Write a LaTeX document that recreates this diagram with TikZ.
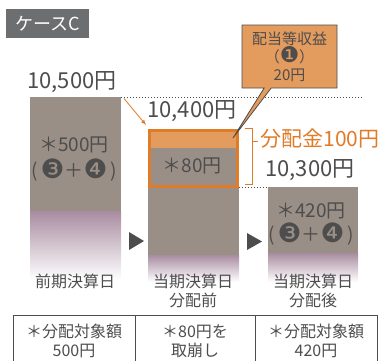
\documentclass[tikz,border=0pt]{standalone}
\usepackage{fontspec}
\setmainfont{Noto Sans CJK JP}
\newfontfamily\dingfont[Scale=1.4]{DejaVu Sans}
\usetikzlibrary{shapes.callouts}
\definecolor{bargray}{HTML}{9A8F87}
\definecolor{barpurple}{HTML}{A88CA0}
\definecolor{divorange}{HTML}{E07B28}
\definecolor{lightorange}{HTML}{E39B5E}
\definecolor{txtgray}{HTML}{4D4D4D}
\definecolor{taggray}{HTML}{6D6E70}
\tikzset{
  amount/.style={font=\fontsize{22}{24}\selectfont, text=txtgray, inner sep=0pt},
  inbar/.style={font=\fontsize{19}{22}\selectfont, text=txtgray, inner sep=0pt, align=center},
  datelabel/.style={font=\fontsize{16}{19}\selectfont, text=txtgray, inner sep=0pt, align=center},
  cell/.style={font=\fontsize{16}{19}\selectfont, text=txtgray, inner sep=0pt, align=center},
  playmark/.style={fill=txtgray},
}
\newcommand{\dg}[1]{\raisebox{-0.06em}{\dingfont #1}}

\begin{document}
\begin{tikzpicture}[x=1pt,y=-1pt]
\useasboundingbox (0,0) rectangle (382,360);
\node[fill=taggray, text=white, minimum width=83pt, minimum height=29pt, inner sep=0pt,
  font=\fontsize{18}{20}\selectfont] (caseC) at (47.5,23.5) {ケースC};

\fill[bargray] (30,97) rectangle (121,211);
\shade[top color=barpurple, bottom color=white] (30,211) rectangle (121,280);
\fill[bargray] (148,129) rectangle (239,255);
\shade[top color=barpurple, bottom color=white] (148,255) rectangle (239,282);
\fill[lightorange] (148,129) rectangle (239,148);
\draw[divorange, line width=3pt] (149.5,130.5) rectangle (237.5,186.5);
\fill[bargray] (268,187) rectangle (358,253);
\shade[top color=barpurple, bottom color=white] (268,253) rectangle (358,282);

\coordinate (lastTop) at (121,97.5);
\coordinate (lastEnd) at (363,97.5);
\coordinate (preTop) at (239,187.5);
\coordinate (postTop) at (268,187.5);
\draw[txtgray, dotted, line width=1pt] (lastTop) -- (lastEnd);
\draw[txtgray, dotted, line width=1pt] (preTop) -- (postTop);

\coordinate (arrowFrom) at (124,98.5);
\coordinate (arrowTo) at (146,125);
\draw[divorange, line width=0.8pt, ->, >=latex] (arrowFrom) -- (arrowTo);

\draw[divorange, line width=1pt] (245,128) -- (252,128) -- (252,184) -- (245,184);
\draw[divorange, line width=1pt] (252,141.5) -- (258,141.5);

\node[amount] (navLast) at (72,82) {10,500円};
\node[amount] (navPre) at (192,111) {10,400円};
\node[amount] (navPost) at (310,170) {10,300円};
\node[amount, font=\fontsize{21}{24}\selectfont, text=divorange] (dividend) at (320,139) {分配金100円};

\node[inbar] (lastAmt) at (74,145) {＊500円};
\node[inbar] (lastSrc) at (74,170) {(\,\dg{❸}＋\dg{❹}\,)};
\node[inbar] (preAmt) at (192,166) {＊80円};
\node[inbar] (postAmt) at (311,211) {＊420円};
\node[inbar] (postSrc) at (311,234) {(\,\dg{❸}＋\dg{❹}\,)};

\node[rectangle callout, draw=txtgray, fill=lightorange, line width=0.8pt,
  callout absolute pointer={(233,138)}, callout pointer width=7pt,
  minimum width=95pt, minimum height=63pt, inner sep=0pt, align=center,
  text=txtgray, font=\fontsize{15}{18}\selectfont] (income) at (289.5,56.5)
  {配当等収益\\（{\dingfont\fontsize{15.5}{15}\selectfont ❶}）\\20円};

\fill[playmark] (129,232) -- (144,241) -- (129,250) -- cycle;
\fill[playmark] (247,233) -- (262,241.5) -- (247,250) -- cycle;

\node[datelabel] (dayLast) at (75,281) {前期決算日};
\node[datelabel] (dayPre) at (193,290.5) {当期決算日\\分配前};
\node[datelabel] (dayPost) at (313,290.5) {当期決算日\\分配後};

\draw[txtgray, line width=0.8pt] (13,315) rectangle (377,380);
\draw[txtgray, line width=0.8pt] (135,315) -- (135,380);
\draw[txtgray, line width=0.8pt] (255,315) -- (255,380);
\node[cell] (cellLast) at (74,341) {＊分配対象額\\500円};
\node[cell] (cellPre) at (195,341) {＊80円を\\取崩し};
\node[cell] (cellPost) at (316,341) {＊分配対象額\\420円};
\end{tikzpicture}
\end{document}
